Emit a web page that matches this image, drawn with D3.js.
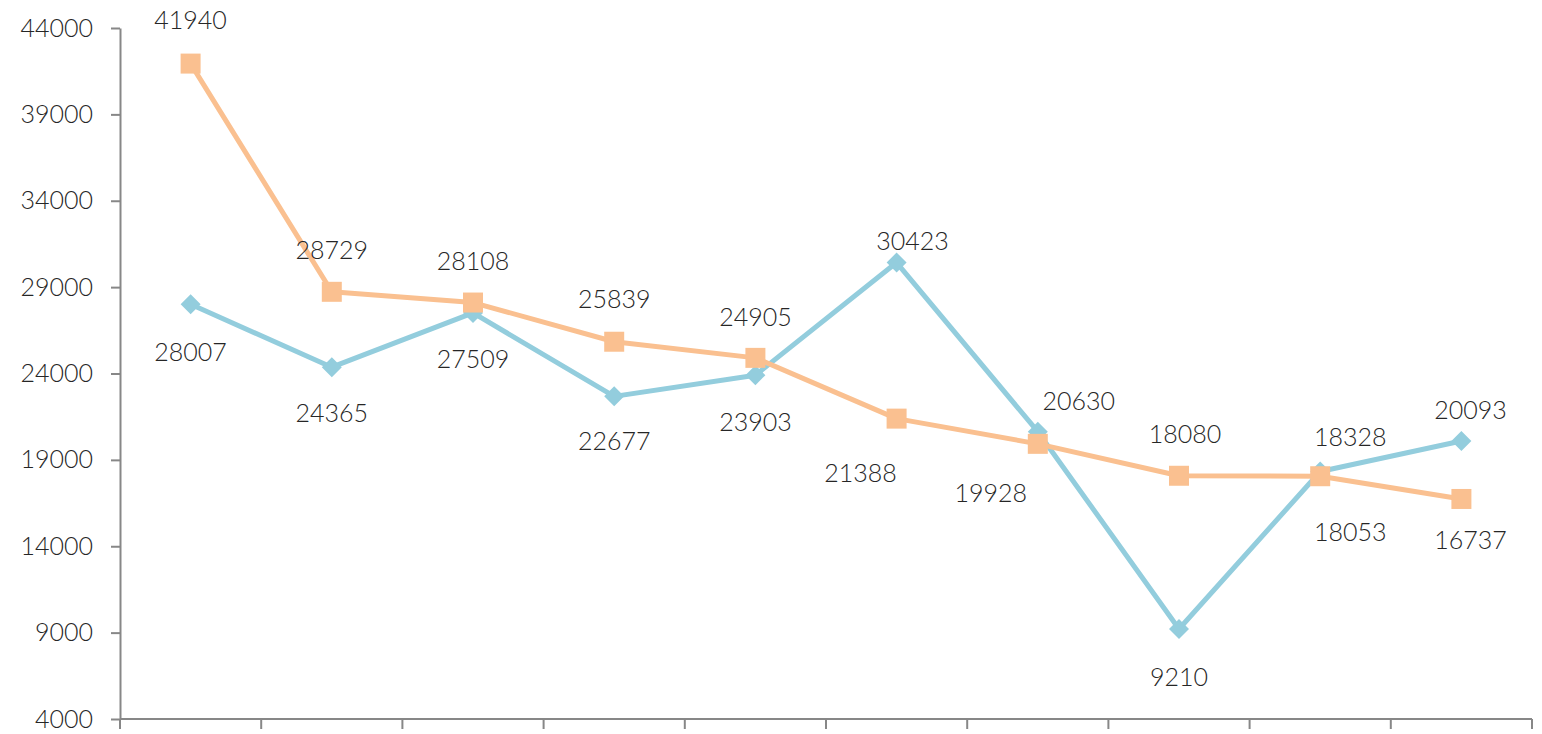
<!DOCTYPE html>
<html>
<head>
  <meta charset="utf-8">
  <style>
    body { margin: 0; background: #fff; }
    .axis path, .axis line { stroke: #878787; stroke-width: 2px; }
    .axis text { font-family: Lato, "Open Sans", sans-serif; font-weight: 300; font-size: 25px; fill: #262626; }
    .line { fill: none; stroke-width: 5px; stroke-linejoin: round; }
    .label { font-family: Lato, "Open Sans", sans-serif; font-weight: 300; font-size: 25px; fill: #262626; }
  </style>
</head>
<body>
  <svg width="1542" height="734"></svg>
  <script src="https://cdn.jsdelivr.net/npm/d3@7"></script>
  <script>

  // ten unlabeled categories along x
  var categories = [1, 2, 3, 4, 5, 6, 7, 8, 9, 10];
  var blueValues   = [28007, 24365, 27509, 22677, 23903, 30423, 20630, 9210, 18328, 20093];
  var orangeValues = [41940, 28729, 28108, 25839, 24905, 21388, 19928, 18080, 18053, 16737];
  var yTicks = [4000, 9000, 14000, 19000, 24000, 29000, 34000, 39000, 44000];

  // label offsets from each point (px), as placed in the original
  var blueLabelDx   = [0, 0, 0, 0, 0, 16, 41, 0, 30, 9];
  var blueLabelDy   = [48, 46, 46, 45, 47, -21, -30, 48, -34, -31];
  var orangeLabelDx = [0, 0, 0, 0, 0, -36, -47, 6, 30, 9];
  var orangeLabelDy = [-43, -42, -41, -42, -41, 55, 49, -42, 56, 41];

  var svg = d3.select("svg"),
      margin = {top: 28, right: 10, bottom: 15, left: 120},
      width = svg.attr("width") - margin.left - margin.right,
      height = svg.attr("height") - margin.top - margin.bottom,
      g = svg.append("g").attr("transform", "translate(" + margin.left + "," + margin.top + ")");

  var x = d3.scaleBand().domain(categories).range([0, width]);
  var y = d3.scaleLinear().domain([4000, 44000]).range([height, 0]);

  g.append("g")
    .attr("class", "axis axis--y")
    .call(d3.axisLeft(y).tickValues(yTicks).tickSize(9).tickSizeOuter(0).tickPadding(18).tickFormat(d3.format("d")));

  // x axis: plain line with ticks at band edges
  var xAxis = g.append("g")
    .attr("class", "axis axis--x")
    .attr("transform", "translate(0," + height + ")");
  xAxis.append("line").attr("x1", 0).attr("x2", width);
  xAxis.selectAll(".tick")
    .data(categories.map(function(c) { return x(c); }).concat([width]))
    .enter().append("line")
    .attr("x1", function(d) { return d; })
    .attr("x2", function(d) { return d; })
    .attr("y1", 0).attr("y2", 10);

  var line = d3.line()
    .x(function(d, i) { return x(categories[i]) + x.bandwidth() / 2; })
    .y(function(d) { return y(d); });

  var series = [
    {id: "blue", values: blueValues, color: "#93cddd", dx: blueLabelDx, dy: blueLabelDy, symbol: "diamond"},
    {id: "orange", values: orangeValues, color: "#fac090", dx: orangeLabelDx, dy: orangeLabelDy, symbol: "square"}
  ];

  series.forEach(function(s) {
    g.append("path")
      .attr("class", "line")
      .attr("d", line(s.values))
      .style("stroke", s.color);

    g.selectAll(".pt-" + s.id)
      .data(s.values)
      .enter().append("path")
      .attr("class", "pt-" + s.id)
      .attr("transform", function(d, i) { return "translate(" + (x(categories[i]) + x.bandwidth() / 2) + "," + y(d) + ")"; })
      .attr("d", s.symbol === "square"
        ? d3.symbol().type(d3.symbolSquare).size(400)()
        : "M0,-10L10,0L0,10L-10,0Z")
      .style("fill", s.color);
  });

  series.forEach(function(s) {
    g.selectAll(".lb-" + s.id)
      .data(s.values)
      .enter().append("text")
      .attr("class", "label lb-" + s.id)
      .attr("x", function(d, i) { return x(categories[i]) + x.bandwidth() / 2 + s.dx[i]; })
      .attr("y", function(d, i) { return y(d) + s.dy[i]; })
      .attr("dy", "0.35em")
      .attr("text-anchor", "middle")
      .text(function(d) { return d; });
  });

  </script>
</body>
</html>
